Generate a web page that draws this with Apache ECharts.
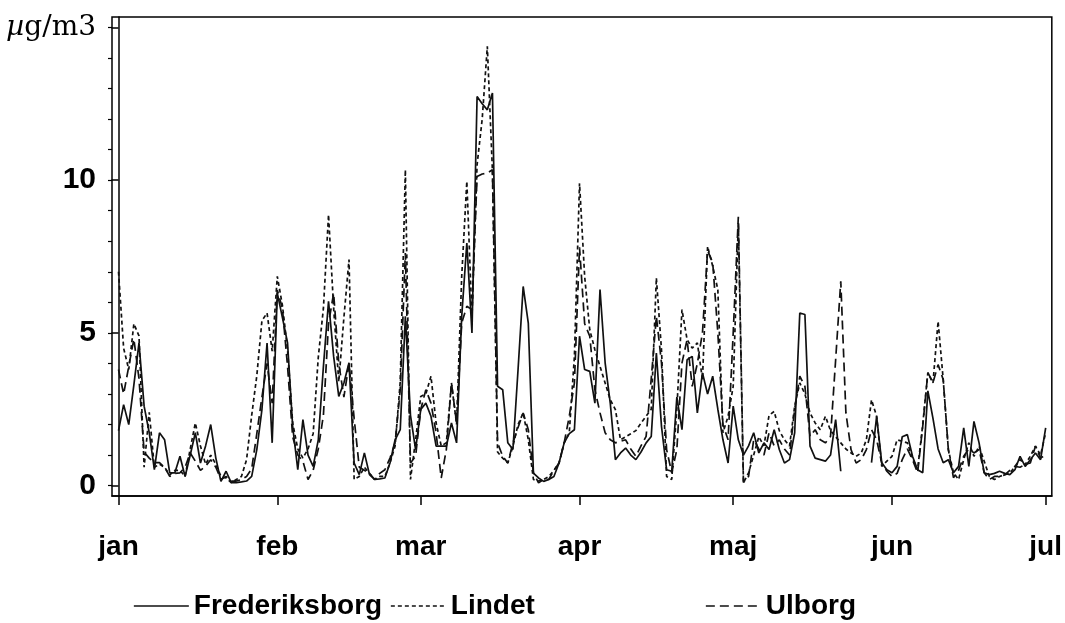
<!DOCTYPE html>
<html>
<head>
<meta charset="utf-8">
<script src="https://cdn.jsdelivr.net/npm/echarts@6/dist/echarts.min.js"></script>
<style>
  html, body { margin: 0; padding: 0; background: #fff; }
  #chart { width: 1065px; height: 623px; }
</style>
</head>
<body>
<div id="chart"></div>
<script>
// Daily concentrations, 1 January (day 0) to 1 July (day 181)
const monthLabels = ['jan', 'feb', 'mar', 'apr', 'maj', 'jun', 'jul'];
const monthStartDays = [0, 31, 59, 90, 120, 151, 181];
const yMajorTicks = [0, 5, 10, 15];
const yMinorTicks = [0, 1, 2, 3, 4, 5, 6, 7, 8, 9, 10, 11, 12, 13, 14, 15];
const seriesNames = ['Frederiksborg', 'Lindet', 'Ulborg'];

const frederiksborg = [
  1.8, 2.65, 2.0, 3.3, 4.67, 2.6, 1.73, 0.52, 1.73, 1.5,
  0.42, 0.42, 0.96, 0.3, 1.0, 1.73, 0.74, 1.3, 2.0, 0.9,
  0.14, 0.47, 0.1, 0.1, 0.12, 0.15, 0.3, 1.18, 2.49, 4.67,
  1.4, 6.3, 5.5, 4.67, 1.94, 0.52, 2.16, 1.0, 0.63, 1.5,
  3.9, 6.03, 4.23, 2.92, 3.36, 4.02, 0.74, 0.36, 1.07, 0.36,
  0.2, 0.22, 0.25, 0.74, 1.5, 1.83, 5.54, 2.3, 1.18, 2.49,
  2.7, 2.27, 1.29, 1.29, 1.29, 2.05, 1.4, 5.54, 7.94, 5.0,
  12.74, 12.5, 12.3, 12.85, 3.25, 3.14, 1.4, 1.18, 3.8, 6.52,
  5.32, 0.41, 0.25, 0.14, 0.2, 0.3, 0.74, 1.4, 1.7, 1.83,
  4.89, 3.8, 3.74, 2.7, 6.42, 4.02, 2.7, 0.85, 1.07, 1.23,
  1.0, 0.85, 1.1, 1.4, 1.61, 4.34, 1.94, 0.52, 0.47, 2.9,
  1.83, 4.12, 4.23, 2.38, 3.69, 3.0, 3.58, 2.5, 1.5, 0.74,
  2.6, 1.5, 1.0, 1.3, 1.73, 1.07, 1.4, 1.18, 1.83, 1.18,
  0.74, 0.85, 1.73, 5.65, 5.6, 1.29, 0.9, 0.85, 0.8, 1.0,
  2.16, 0.47, null, null, null, null, null, 0.75, 2.27, 0.75,
  0.52, 0.42, 0.63, 1.6, 1.67, 0.96, 0.52, 0.42, 3.1, 2.2,
  1.2, 0.75, 0.85, 0.42, 0.63, 1.89, 0.63, 2.1, 1.4, 0.42,
  0.36, 0.4, 0.47, 0.4, 0.36, 0.52, 0.96, 0.63, 0.85, 1.07,
  0.85, 1.89
];

const lindet = [
  7.0, 4.5, 3.8, 5.3, 4.9, 0.6, 2.4, 0.6, 0.7, 0.6,
  0.35, 0.5, 0.5, 0.3, 1.2, 2.05, 1.3, 0.7, 1.0, 0.7,
  0.3, 0.25, 0.1, 0.2, 0.3, 0.85, 2.3, 3.6, 5.4, 5.65,
  4.4, 6.85, 5.9, 4.45, 2.05, 1.2, 0.9, 1.2, 1.7, 4.2,
  5.8, 8.87, 5.8, 3.4, 5.5, 7.4, 0.2, 0.3, 0.6, 0.4,
  0.2, 0.3, 0.3, 0.74, 1.3, 3.4, 10.34, 0.2, 1.5, 2.92,
  3.0, 3.58, 2.05, 1.3, 1.4, 3.36, 2.0, 6.85, 9.96, 5.5,
  10.5, 12.0, 14.38, 10.3, 1.1, 0.9, 0.74, 1.29, 2.0, 2.38,
  1.5, 0.2, 0.15, 0.2, 0.3, 0.5, 0.74, 1.4, 1.73, 4.23,
  9.9, 6.85, 5.1, 4.45, 3.9, 3.36, 2.81, 2.49, 1.5, 1.6,
  1.7, 1.8, 2.05, 2.27, 2.5, 6.8, 4.45, 0.3, 0.2, 2.5,
  5.76, 4.78, 4.5, 4.67, 3.47, 7.83, 7.18, 6.42, 1.73, 2.27,
  3.25, 8.6, 0.09, 0.42, 1.0, 1.6, 1.3, 2.3, 2.43, 1.8,
  1.5, 1.3, 2.6, 3.36, 3.0, 2.38, 2.05, 1.83, 2.27, 1.8,
  1.6, 1.4, 1.2, 1.07, 0.96, 1.07, 1.5, 2.81, 2.27, 0.63,
  0.8, 0.96, 1.5, 1.45, 1.4, 0.9, 0.52, 2.0, 3.69, 3.36,
  5.38, 3.47, 1.18, 0.42, 0.2, 0.85, 1.4, 0.96, 1.29, 0.8,
  0.3, 0.2, 0.3, 0.36, 0.4, 0.63, 0.85, 0.69, 0.96, 1.29,
  1.0, 1.73
];

const ulborg = [
  3.8, 3.0, 3.9, 4.8, 3.5, 1.1, 0.9, 0.75, 0.75, 0.6,
  0.3, 0.4, 0.42, 0.6, 1.07, 0.8, 0.5, 0.63, 0.85, 0.6,
  0.2, 0.3, 0.15, 0.15, 0.2, 0.3, 0.55, 1.7, 2.9, 4.0,
  2.7, 6.4, 5.8, 3.9, 1.6, 1.0, 0.8, 0.2, 0.5, 1.2,
  2.3, 5.3, 6.3, 4.0, 2.9, 4.0, 2.2, 0.6, 0.5, 0.4,
  0.2, 0.4, 0.52, 0.9, 1.4, 3.14, 7.61, 0.74, 0.96, 2.49,
  3.14, 2.7, 1.73, 0.25, 1.18, 3.36, 2.05, 5.32, 5.87, 5.76,
  10.12, 10.2, 10.23, 10.34, 1.4, 0.96, 0.74, 1.4, 1.9, 2.38,
  1.83, 0.42, 0.09, 0.2, 0.2, 0.5, 0.74, 1.4, 2.27, 3.36,
  7.8, 5.3, 4.89, 3.14, 2.38, 1.73, 1.5, 1.4, 1.45, 1.5,
  1.2, 0.96, 1.3, 1.61, 3.5, 5.54, 4.02, 1.18, 0.42, 1.18,
  4.02, 4.78, 3.25, 4.0, 5.0, 7.7, 7.3, 5.0, 2.0, 1.5,
  5.0, 8.8, 0.1, 0.3, 1.5, 1.2, 1.0, 1.73, 1.3, 1.5,
  1.2, 1.0, 2.5, 3.58, 3.25, 1.61, 1.83, 1.5, 1.4, 1.61,
  4.12, 6.69, 2.38, 1.18, 0.74, 0.85, 1.18, 1.83, 1.5, 0.74,
  0.47, 0.3, 0.4, 0.85, 1.2, 0.85, 0.42, 1.94, 3.7, 3.37,
  3.96, 3.47, 1.18, 0.26, 0.5, 0.96, 1.2, 1.07, 1.18, 0.42,
  0.2, 0.3, 0.3, 0.35, 0.5, 0.63, 0.6, 0.7, 0.74, 1.29,
  0.9, 1.0
];

const ink = '#111';
const sansFont = '"Liberation Sans", Arial, Helvetica, sans-serif';
const serifFont = '"DejaVu Serif", "Liberation Serif", serif';

const toPoints = arr => arr.map((v, i) => [i, v === null ? '-' : v]);

const lineSeries = (name, values, dash) => ({
  name: name,
  type: 'line',
  data: toPoints(values),
  symbol: 'none',
  connectNulls: false,
  lineStyle: { color: ink, width: 1.7, type: dash },
  itemStyle: { color: ink },
  emphasis: { disabled: true },
  z: 3
});

const legendLeft = [128, 385, 700];

const option = {
  animation: false,
  backgroundColor: '#fff',
  grid: {
    left: 112, right: 13, top: 17, bottom: 127,
    show: true, borderColor: '#000', borderWidth: 1.5, backgroundColor: 'transparent'
  },
  xAxis: {
    type: 'value',
    min: -1.27,
    max: 182.2,
    axisLine: { show: true, onZero: false, lineStyle: { color: '#000', width: 1.5 } },
    axisTick: {
      show: true, inside: false, length: 9, customValues: monthStartDays,
      lineStyle: { color: '#000', width: 1.5 }
    },
    axisLabel: {
      customValues: monthStartDays,
      formatter: v => monthLabels[monthStartDays.indexOf(Math.round(v))] || '',
      fontSize: 28, fontWeight: 'bold', color: '#000', fontFamily: sansFont, margin: 37
    },
    splitLine: { show: false }
  },
  yAxis: [
    {
      type: 'value',
      min: -0.34,
      max: 15.34,
      axisLine: { show: true, lineStyle: { color: '#000', width: 1.5 } },
      axisTick: {
        show: true, length: 7, customValues: yMajorTicks,
        lineStyle: { color: '#000', width: 1.5 }
      },
      axisLabel: {
        customValues: yMajorTicks,
        margin: 16,
        formatter: v => (Math.round(v) === 15 ? '{mu|µ}{unit|g/m3}' : String(Math.round(v))),
        fontSize: 30, fontWeight: 'bold', color: '#000', fontFamily: sansFont,
        rich: {
          mu: { fontFamily: serifFont, fontStyle: 'italic', fontWeight: 'normal', fontSize: 28, color: '#000' },
          unit: { fontFamily: serifFont, fontWeight: 'normal', fontSize: 28, color: '#000' }
        }
      },
      splitLine: { show: false }
    },
    {
      type: 'value',
      min: -0.34,
      max: 15.34,
      position: 'left',
      axisLine: { show: false },
      axisTick: {
        show: true, length: 4, customValues: yMinorTicks,
        lineStyle: { color: '#000', width: 1.2 }
      },
      axisLabel: { show: false },
      splitLine: { show: false }
    }
  ],
  legend: seriesNames.map((name, k) => ({
    data: [name],
    left: legendLeft[k],
    top: 587,
    itemWidth: 55,
    itemHeight: 12,
    selectedMode: false,
    itemStyle: { opacity: 0 },
    lineStyle: { width: 1.7, opacity: 1 },
    textStyle: {
      fontSize: 28, fontWeight: 'bold', color: '#000', fontFamily: sansFont
    }
  })),
  series: [
    lineSeries(seriesNames[0], frederiksborg, 'solid'),
    lineSeries(seriesNames[1], lindet, [4, 3]),
    lineSeries(seriesNames[2], ulborg, [9, 5])
  ]
};

const chart = echarts.init(document.getElementById('chart'), null, { renderer: 'canvas' });
chart.setOption(option);
</script>
</body>
</html>
